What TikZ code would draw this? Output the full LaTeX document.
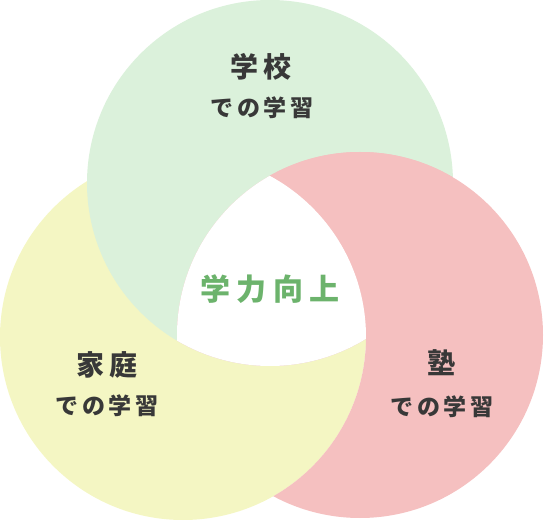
\documentclass[tikz,border=0pt]{standalone}
\usepackage{fontspec}
\newfontfamily\jpfont{Noto Sans CJK JP}
\definecolor{cgreen}{HTML}{DBF1DB}
\definecolor{cyellow}{HTML}{F4F6C3}
\definecolor{cpink}{HTML}{F5C0C0}
\definecolor{ctext}{HTML}{383838}
\definecolor{ccenter}{HTML}{6CB36C}
\tikzset{
  titletext/.style={text=ctext, font=\jpfont\bfseries\fontsize{28}{30}\selectfont\addfontfeature{LetterSpace=18}, inner sep=0pt},
  subtext/.style={text=ctext, font=\jpfont\bfseries\fontsize{23}{25}\selectfont\addfontfeature{LetterSpace=17}, inner sep=0pt},
  centertext/.style={text=ccenter, font=\jpfont\bfseries\fontsize{30}{32}\selectfont\addfontfeature{LetterSpace=22}, inner sep=0pt}
}
\begin{document}
\begin{tikzpicture}[x=1pt,y=-1pt]
\useasboundingbox (0,0) rectangle (544,521);
\coordinate (G) at (270,183);
\coordinate (Y) at (183,337);
\coordinate (P) at (360,335);
% yellow, then green over it
\fill[cyellow] (Y) circle[radius=183pt];
\fill[cgreen] (G) circle[radius=183pt];
% pink outside yellow
\begin{scope}[even odd rule]
  \clip (-10,-10) rectangle (554,531) (Y) circle[radius=183pt];
  \fill[cpink] (P) circle[radius=183pt];
\end{scope}
% pink over green
\begin{scope}
  \clip (G) circle[radius=183pt];
  \fill[cpink] (P) circle[radius=183pt];
\end{scope}
% white centre (triple intersection)
\begin{scope}
  \clip (P) circle[radius=183pt];
  \clip (G) circle[radius=183pt];
  \fill[white] (Y) circle[radius=183pt];
\end{scope}
\node[titletext] (gt) at (261,67) {学校};
\node[subtext] (gs) at (262,108) {での学習};
\node[titletext] (yt) at (107,365) {家庭};
\node[subtext] (ys) at (107,406) {での学習};
\node[titletext] (pt) at (441,363) {塾};
\node[subtext] (ps) at (442,407) {での学習};
\node[centertext] (ct) at (270,289) {学力向上};
\end{tikzpicture}
\end{document}
